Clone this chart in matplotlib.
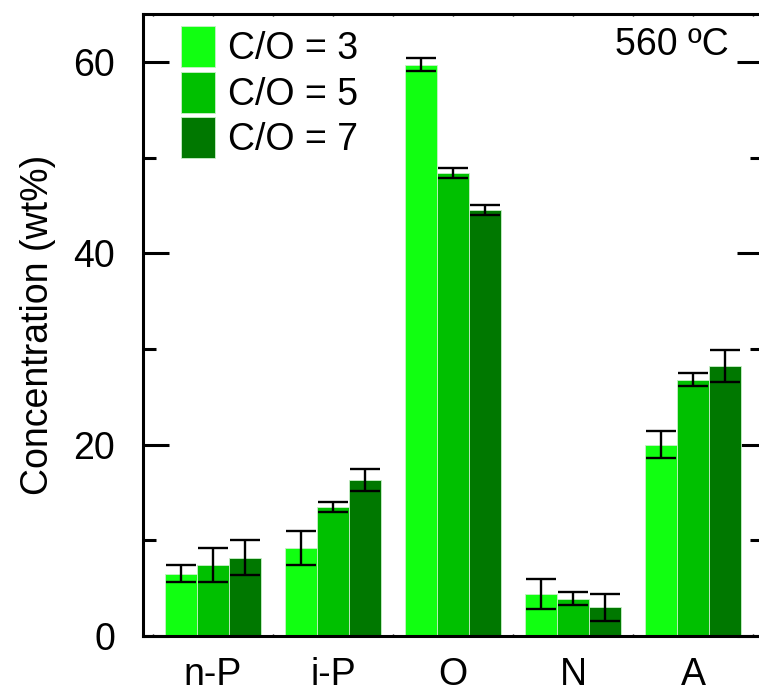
import matplotlib
matplotlib.use("Agg")
import matplotlib.pyplot as plt
import numpy as np
from matplotlib.ticker import MultipleLocator

plt.rcParams['font.family'] = ['Liberation Sans', 'DejaVu Sans']

categories = ["n-P", "i-P", "O", "N", "A"]
series_labels = ["C/O = 3", "C/O = 5", "C/O = 7"]
co3 = [6.5, 9.2, 59.7, 4.4, 20.0]
co5 = [7.4, 13.5, 48.4, 3.9, 26.8]
co7 = [8.2, 16.3, 44.5, 3.0, 28.2]
err3 = [0.9, 1.8, 0.7, 1.6, 1.4]
err5 = [1.75, 0.5, 0.5, 0.7, 0.7]
err7 = [1.8, 1.1, 0.5, 1.4, 1.7]
colors = ["#11ff11", "#00c000", "#007800"]

fig = plt.figure(figsize=(7.59, 6.97), dpi=100)
ax = fig.add_axes([143/759, 61/697, 620/759, 622/697])

x = np.arange(len(categories))
w = 0.267
for i, (vals, errs) in enumerate(zip([co3, co5, co7], [err3, err5, err7])):
    ax.bar(x + (i - 1) * w, vals, width=w, color=colors[i],
           edgecolor='#c8f0c8', linewidth=0.6, label=series_labels[i], zorder=2)
    ax.errorbar(x + (i - 1) * w, vals, yerr=errs, fmt='none', ecolor='black',
                elinewidth=1.7, capsize=11, capthick=1.7, zorder=3)

ax.set_xlim(-0.583, 4.583)
ax.set_ylim(0, 65)
ax.set_xticks(x)
ax.set_xticklabels(categories, fontsize=27)
ax.xaxis.set_minor_locator(MultipleLocator(0.5))
ax.yaxis.set_major_locator(MultipleLocator(20))
ax.yaxis.set_minor_locator(MultipleLocator(10))
ax.tick_params(axis='y', which='major', direction='in', length=19, width=2.2,
               labelsize=27, pad=20, left=True, right=True)
ax.tick_params(axis='y', which='minor', direction='in', length=9.5, width=2.2,
               left=True, right=True)
ax.tick_params(axis='x', which='both', direction='in', length=1.5, width=1,
               top=True, bottom=True, pad=15)
for s in ax.spines.values():
    s.set_linewidth(2.2)

ax.set_ylabel("Concentration (wt%)", fontsize=27)
ax.yaxis.set_label_coords(-0.14, 0.5)

ax.text(0.945, 0.95, "560 ºC", transform=ax.transAxes, ha='right', va='center',
        fontsize=27)

ax.legend(loc='upper left', bbox_to_anchor=(0.019, 1.0225), frameon=False,
          fontsize=27, handlelength=0.9, handleheight=1.3, handletextpad=0.35,
          labelspacing=0.12, borderaxespad=0.3)

fig.savefig("out.png", dpi=100)
